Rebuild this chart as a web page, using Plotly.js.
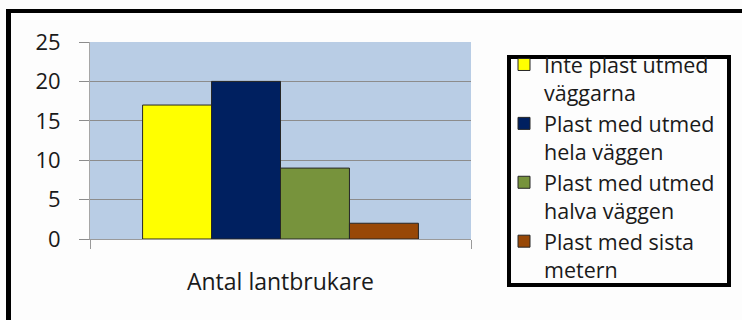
<!DOCTYPE html>
<html>
<head>
<meta charset="utf-8">
<script src="https://cdn.plot.ly/plotly-3.0.1.min.js"></script>
<style>
html,body{margin:0;padding:0;background:#fdfdfd;}
#chart{width:742px;height:320px;}
</style>
</head>
<body>
<div id="chart"></div>
<script>
// ---- data ----
var category = ["Antal lantbrukare"];
var seriesNames = [
  "Inte plast utmed<br>väggarna",
  "Plast med utmed<br>hela väggen",
  "Plast med utmed<br>halva väggen",
  "Plast med sista<br>metern"
];
var seriesValues = [17, 20, 9, 2];
var seriesColors = ["#FFFF00", "#002060", "#77933C", "#984807"];
var yTickVals = [0, 5, 10, 15, 20, 25];

// ---- layout geometry (pixels) ----
var W = 742, H = 320;
var M = {l: 90, r: 271, t: 42, b: 81};
var PW = W - M.l - M.r, PH = H - M.t - M.b;
function px(x) { return (x - M.l) / PW; }
function py(y) { return (H - M.b - y) / PH; }

var traces = seriesNames.map(function (name, i) {
  return {
    type: "bar",
    name: name,
    x: category,
    y: [seriesValues[i]],
    marker: {color: seriesColors[i], line: {color: "#262626", width: 1}},
    hoverinfo: "skip"
  };
});

var font = "'Open Sans', sans-serif";
var layout = {
  width: W, height: H,
  margin: M,
  paper_bgcolor: "#fdfdfd",
  plot_bgcolor: "#B9CDE5",
  barmode: "group",
  bargap: 0.276,
  bargroupgap: 0,
  showlegend: true,
  font: {family: font, color: "#1a1a1a"},
  xaxis: {
    type: "category",
    showgrid: false,
    showline: true,
    linecolor: "#9a9a9a",
    linewidth: 1,
    ticks: "outside",
    tickson: "boundaries",
    ticklen: 9,
    tickcolor: "#9a9a9a",
    tickfont: {family: font, size: 23, color: "#1a1a1a"},
    ticklabelstandoff: 22,
    fixedrange: true
  },
  yaxis: {
    range: [0, 25],
    tickvals: yTickVals,
    ticktext: yTickVals.map(String),
    showgrid: true,
    gridcolor: "#8c8c8c",
    gridwidth: 1,
    zeroline: false,
    showline: true,
    linecolor: "#a6a6a6",
    ticks: "outside",
    ticklen: 10,
    tickcolor: "#8c8c8c",
    tickfont: {family: font, size: 22, color: "#1a1a1a"},
    ticklabelstandoff: 14,
    fixedrange: true
  },
  legend: {
    x: px(504), y: py(44),
    xanchor: "left", yanchor: "top",
    bgcolor: "rgba(0,0,0,0)",
    borderwidth: 0,
    valign: "top",
    tracegroupgap: 0,
    maxheight: 600,
    font: {family: font, size: 21.5, color: "#1a1a1a"}
  },
  shapes: [
    // outer frame: top and left edges
    {type: "line", xref: "paper", yref: "paper", x0: px(6), x1: px(745), y0: py(11), y1: py(11),
     line: {color: "#000", width: 4}},
    {type: "line", xref: "paper", yref: "paper", x0: px(8.5), x1: px(8.5), y0: py(9), y1: py(330),
     line: {color: "#000", width: 5}},
    // legend box
    {type: "rect", xref: "paper", yref: "paper", x0: px(509), x1: px(729), y0: py(57), y1: py(285),
     line: {color: "#000", width: 4}, fillcolor: "rgba(0,0,0,0)"}
  ]
};

Plotly.newPlot("chart", traces, layout, {staticPlot: true, displayModeBar: false});
</script>
</body>
</html>
